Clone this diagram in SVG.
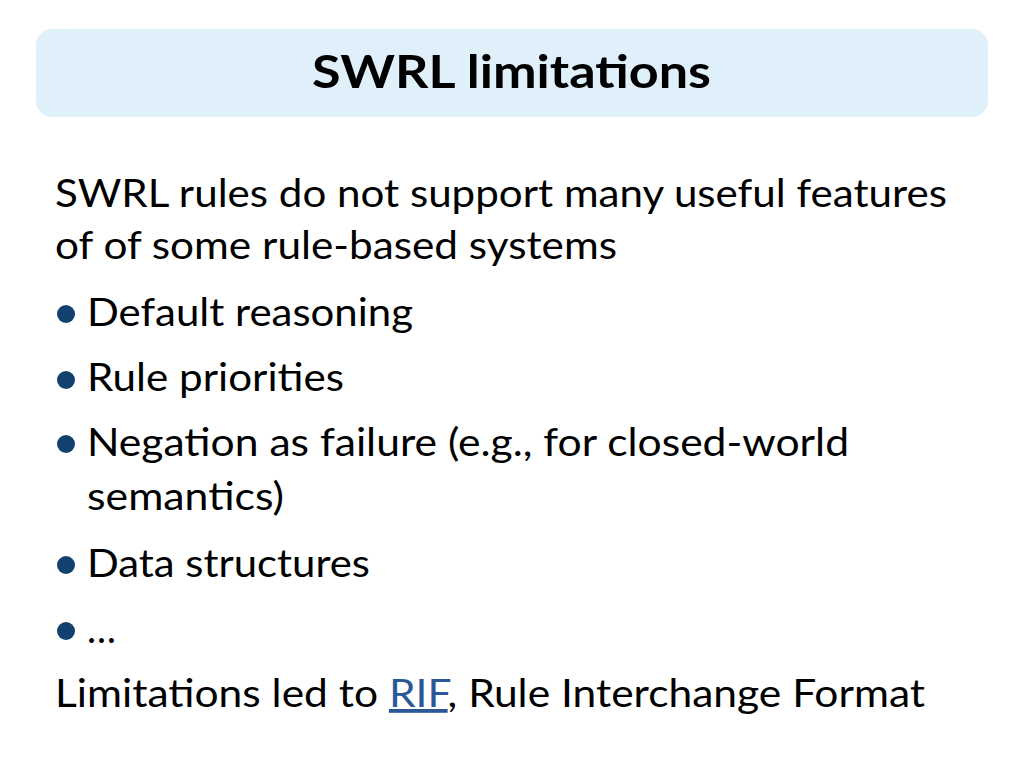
<svg xmlns="http://www.w3.org/2000/svg" width="1024" height="768" viewBox="0 0 1024 768">
<style>
.t{font-family:Lato,"Open Sans",sans-serif;font-size:38px;fill:#000}
.b{fill:#12406f}
</style>
<rect width="1024" height="768" fill="#fff"/>
<g id="title">
<rect x="36" y="29" width="952" height="88" rx="16" fill="#dff0fb"/>
<text x="312" y="88" textLength="399" lengthAdjust="spacingAndGlyphs" style="font-family:Lato,'Open Sans',sans-serif;font-size:46px;font-weight:bold">SWRL limitations</text>
</g>
<g id="body">
<text class="t" x="55" y="207" textLength="892" lengthAdjust="spacingAndGlyphs">SWRL rules do not support many useful features</text>
<text class="t" x="55" y="259" textLength="562" lengthAdjust="spacingAndGlyphs">of of some rule-based systems</text>
<circle class="b" cx="66" cy="314" r="9"/>
<text class="t" x="87" y="326" textLength="326" lengthAdjust="spacingAndGlyphs">Default reasoning</text>
<circle class="b" cx="66" cy="380" r="9"/>
<text class="t" x="87" y="391" textLength="257" lengthAdjust="spacingAndGlyphs">Rule priorities</text>
<circle class="b" cx="66" cy="444" r="9"/>
<text class="t" x="87" y="456" textLength="762" lengthAdjust="spacingAndGlyphs">Negation as failure (e.g., for closed-world</text>
<text class="t" x="87" y="510" textLength="197" lengthAdjust="spacingAndGlyphs">semantics)</text>
<circle class="b" cx="66" cy="565" r="9"/>
<text class="t" x="87" y="577" textLength="283" lengthAdjust="spacingAndGlyphs">Data structures</text>
<circle class="b" cx="66" cy="631" r="9"/>
<text class="t" x="87" y="643" textLength="29" lengthAdjust="spacingAndGlyphs">…</text>
<text class="t" x="55" y="707" textLength="870" lengthAdjust="spacingAndGlyphs">Limitations led to <tspan fill="#2b5797" text-decoration="underline">RIF</tspan>, Rule Interchange Format</text>
</g>
</svg>
